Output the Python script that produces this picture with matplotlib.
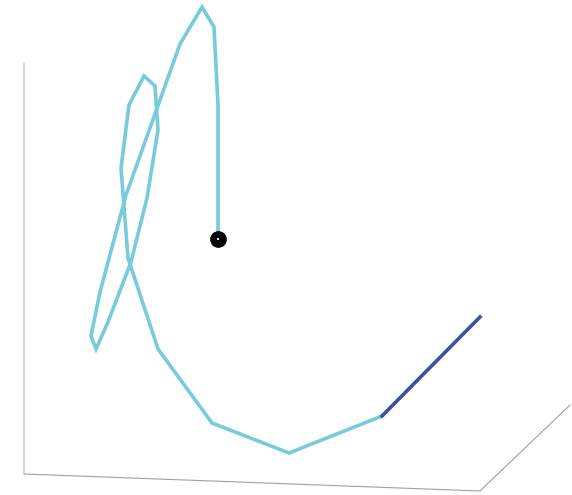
import matplotlib
matplotlib.use("Agg")
import matplotlib.pyplot as plt

# Projected trajectory (screen-plane coordinates), starting at the marked origin
path_x = [218, 218, 214, 202, 180, 126, 100, 91, 96, 108, 131, 147, 158, 155, 144,
          129, 121, 128, 158, 212, 289, 382]
path_y = [239, 105, 27, 7, 44, 195, 292, 336, 349, 322, 262, 198, 130, 86, 76,
          105, 168, 258, 349, 423, 453, 416]

# Final leg, highlighted
tail_x = [382, 480]
tail_y = [416, 317]

# Frame edges of the 3D box
vert_x = [23.5, 23.5]
vert_y = [62, 474]
floor_x = [24, 480, 570]
floor_y = [474, 491, 405]

fig = plt.figure(figsize=(5.72, 4.95), dpi=100)
ax = fig.add_axes([0, 0, 1, 1])
ax.set_xlim(0, 572)
ax.set_ylim(495, 0)
ax.axis("off")

ax.plot(vert_x, vert_y, color="#d4d4d4", lw=1.3, solid_capstyle="butt")
ax.plot(floor_x, floor_y, color="#a0a0a0", lw=0.8)

ax.plot(path_x, path_y, color="#78cadd", lw=2.6, solid_joinstyle="miter", zorder=3)
ax.plot(tail_x, tail_y, color="#3b52a3", lw=2.6, zorder=3)

# Start marker: black disc with a small pale centre
ax.plot(path_x[0], path_y[0], "o", color="black", ms=11, zorder=4)
ax.plot(path_x[0], path_y[0], "s", color="#cfeef5", ms=2, mew=0, zorder=5)

fig.savefig("out.png", dpi=100)
